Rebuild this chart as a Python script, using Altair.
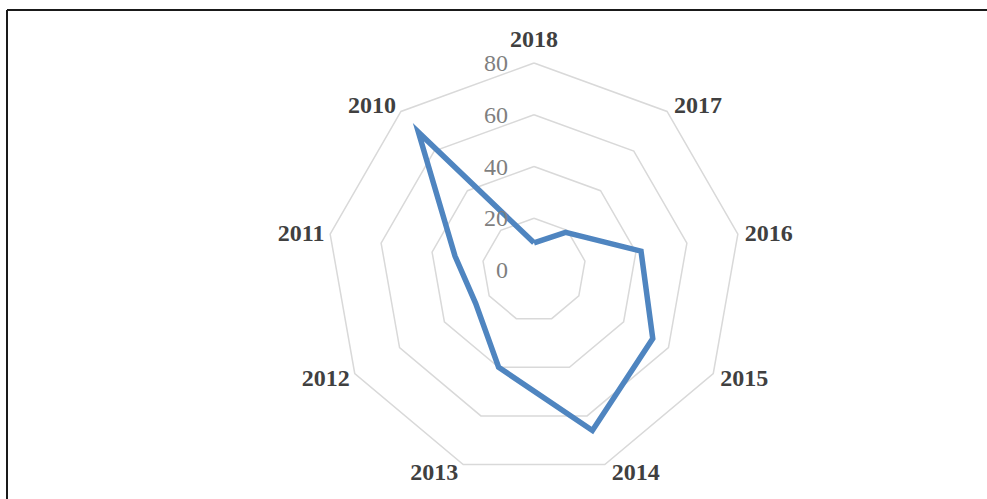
import altair as alt
import pandas as pd
import numpy as np

# ---- data ----
categories = ["2018", "2017", "2016", "2015", "2014", "2013", "2012", "2011", "2010"]
values = [10.5, 19, 42, 53, 66, 40, 26, 31, 69.5]
grid_levels = [20, 40, 60, 80]
tick_labels = ["0", "20", "40", "60", "80"]
tick_values = [0, 20, 40, 60, 80]

# ---- geometry (pixel layout of the canvas) ----
W, H = 987, 499
CX, CY = 534, 270           # centre of the radar in pixels
K = 207 / 80                # pixels per data unit
XDOM = [-CX / K, (W - CX) / K]
YDOM = [-(H - CY) / K, CY / K]
N = len(categories)

xs = alt.Scale(domain=XDOM, nice=False, zero=False)
ys = alt.Scale(domain=YDOM, nice=False, zero=False)

# series table (closed polygon)
series = pd.DataFrame({
    "idx": list(range(N)) + [N],
    "cat": categories + [categories[0]],
    "value": values + [values[0]],
})

# grid table
grid_rows = []
for lv in grid_levels:
    for i in range(N + 1):
        grid_rows.append({"level": lv, "idx": i})
grid = pd.DataFrame(grid_rows)

ticks = pd.DataFrame({"label": tick_labels, "v": tick_values})
cats = pd.DataFrame({"idx": list(range(N)), "cat": categories, "r": [80] * N})

theta = f"datum.idx * 2 * PI / {N}"

grid_layer = alt.Chart(grid).transform_calculate(
    theta=theta,
).transform_calculate(
    x="datum.level * sin(datum.theta)",
    y="datum.level * cos(datum.theta)",
).mark_line(color="#D9D9D9", strokeWidth=1.5).encode(
    x=alt.X("x:Q", scale=xs, axis=None),
    y=alt.Y("y:Q", scale=ys, axis=None),
    detail="level:N",
    order="idx:Q",
)

line_layer = alt.Chart(series).transform_calculate(
    theta=theta,
).transform_calculate(
    x="datum.value * sin(datum.theta)",
    y="datum.value * cos(datum.theta)",
).mark_line(color="#4F85C0", strokeWidth=5.5, strokeJoin="miter").encode(
    x=alt.X("x:Q", scale=xs, axis=None),
    y=alt.Y("y:Q", scale=ys, axis=None),
    order="idx:Q",
)

tick_layer = alt.Chart(ticks).transform_calculate(
    x="0", y="datum.v",
).mark_text(
    align="right", baseline="middle", dx=-26, dy=1,
    font="Liberation Serif", fontSize=24, color="#7F7F7F",
).encode(
    x=alt.X("x:Q", scale=xs, axis=None),
    y=alt.Y("y:Q", scale=ys, axis=None),
    text="label:N",
)

cat_layer = alt.Chart(cats).transform_calculate(
    theta=theta,
).transform_calculate(
    s="sin(datum.theta)", c="cos(datum.theta)",
).transform_calculate(
    x=f"datum.r * datum.s + (abs(datum.s) < 0.01 ? 0 : (datum.s > 0 ? 31 : -29)) / {K}",
    y=f"datum.r * datum.c + (abs(datum.s) < 0.01 ? 23 : (datum.c * 8 - 1)) / {K}",
).mark_text(
    align="center", baseline="middle",
    font="Liberation Serif", fontSize=24, fontWeight="bold", color="#404040",
).encode(
    x=alt.X("x:Q", scale=xs, axis=None),
    y=alt.Y("y:Q", scale=ys, axis=None),
    text="cat:N",
)

border_top = alt.Chart(pd.DataFrame({"a": [0]})).mark_rule(
    color="#1a1a1a", strokeWidth=2
).encode(x=alt.value(7), x2=alt.value(W), y=alt.value(10))
border_left = alt.Chart(pd.DataFrame({"a": [0]})).mark_rule(
    color="#1a1a1a", strokeWidth=2
).encode(x=alt.value(7), y=alt.value(10), y2=alt.value(H))

chart = alt.layer(
    grid_layer, line_layer, tick_layer, cat_layer, border_top, border_left
).properties(
    width=W, height=H, padding=0,
    autosize=alt.AutoSizeParams(type="none"),
    background="white",
).configure_view(stroke=None)

chart.save("out.html", embed_options={"renderer": "svg", "actions": False})
